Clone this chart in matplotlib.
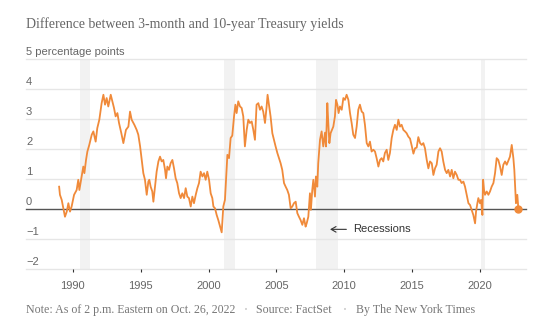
import matplotlib
matplotlib.use("Agg")
import matplotlib.pyplot as plt

# 3-month vs 10-year Treasury spread, percentage points (decimal years)
years = [
    1989.00, 1989.06, 1989.19, 1989.31, 1989.43, 1989.56, 1989.68, 1989.80, 1989.92,
    1990.10, 1990.29, 1990.41, 1990.49, 1990.66, 1990.78, 1990.86, 1990.98,
    1991.08, 1991.22, 1991.40, 1991.52, 1991.69, 1991.81, 1991.96,
    1992.06, 1992.13, 1992.26, 1992.38, 1992.50, 1992.62, 1992.80, 1992.92,
    1993.04, 1993.16, 1993.29, 1993.41, 1993.58, 1993.73, 1993.92,
    1994.10, 1994.22, 1994.34, 1994.54, 1994.71, 1994.83, 1994.96,
    1995.08, 1995.20, 1995.32, 1995.45, 1995.57, 1995.64, 1995.74, 1995.86, 1995.94,
    1996.06, 1996.18, 1996.31, 1996.43, 1996.55, 1996.67, 1996.80, 1996.87, 1996.97,
    1997.09, 1997.21, 1997.34, 1997.46, 1997.58, 1997.70, 1997.83, 1997.95,
    1998.07, 1998.20, 1998.32, 1998.44, 1998.56, 1998.69, 1998.81, 1998.93,
    1999.06, 1999.18, 1999.30, 1999.42, 1999.55, 1999.67, 1999.79, 1999.91,
    2000.04, 2000.16, 2000.28, 2000.36, 2000.48, 2000.60, 2000.72, 2000.85, 2000.97,
    2001.09, 2001.21, 2001.29, 2001.39, 2001.51, 2001.63, 2001.75, 2001.88, 2001.98,
    2002.07, 2002.19, 2002.32, 2002.44, 2002.56, 2002.68, 2002.81, 2002.93,
    2003.05, 2003.18, 2003.30, 2003.42, 2003.54, 2003.67, 2003.79, 2003.91,
    2004.03, 2004.16, 2004.28, 2004.35, 2004.45, 2004.57, 2004.70, 2004.82, 2004.94,
    2005.07, 2005.19, 2005.31, 2005.43, 2005.56, 2005.68, 2005.80, 2005.92,
    2006.05, 2006.17, 2006.29, 2006.42, 2006.54, 2006.66, 2006.78, 2006.91,
    2007.03, 2007.15, 2007.23, 2007.35, 2007.47, 2007.54, 2007.64, 2007.72, 2007.84, 2007.91,
    2008.01, 2008.08, 2008.21, 2008.33, 2008.45, 2008.58, 2008.65, 2008.75, 2008.82, 2008.90, 2008.99,
    2009.09, 2009.19, 2009.31, 2009.39, 2009.49, 2009.58, 2009.68, 2009.81, 2009.93,
    2010.05, 2010.17, 2010.30, 2010.42, 2010.54, 2010.66, 2010.79, 2010.91,
    2011.03, 2011.15, 2011.28, 2011.40, 2011.52, 2011.65, 2011.77, 2011.89,
    2012.01, 2012.14, 2012.26, 2012.38, 2012.51, 2012.63, 2012.75, 2012.87, 2012.99,
    2013.12, 2013.24, 2013.36, 2013.49, 2013.61, 2013.73, 2013.86, 2013.98,
    2014.10, 2014.22, 2014.35, 2014.47, 2014.59, 2014.71, 2014.84, 2014.96,
    2015.09, 2015.21, 2015.33, 2015.45, 2015.58, 2015.70, 2015.82, 2015.94,
    2016.07, 2016.19, 2016.31, 2016.44, 2016.56, 2016.68, 2016.80, 2016.93,
    2017.05, 2017.17, 2017.29, 2017.42, 2017.54, 2017.66, 2017.79, 2017.91,
    2018.03, 2018.15, 2018.28, 2018.40, 2018.52, 2018.64, 2018.77, 2018.89,
    2019.01, 2019.14, 2019.26, 2019.38, 2019.50, 2019.63, 2019.70, 2019.80, 2019.87, 2019.99,
    2020.07, 2020.17, 2020.22, 2020.29, 2020.36, 2020.49, 2020.61, 2020.73, 2020.85, 2020.98,
    2021.10, 2021.22, 2021.34, 2021.47, 2021.59, 2021.71, 2021.84, 2021.96,
    2022.08, 2022.20, 2022.33, 2022.45, 2022.52, 2022.59, 2022.64, 2022.74, 2022.82,
]
spread = [
    0.75, 0.48, 0.31, 0.03, -0.25, -0.08, 0.20, -0.08, 0.09,
    0.48, 0.64, 0.98, 0.64, 1.09, 1.42, 1.20, 1.64,
    1.92, 2.14, 2.48, 2.59, 2.25, 2.70, 2.98,
    3.31, 3.53, 3.81, 3.48, 3.70, 3.42, 3.81, 3.59,
    3.37, 3.09, 3.20, 2.87, 2.53, 2.20, 2.64,
    2.75, 3.25, 2.98, 2.81, 2.64, 2.48, 2.10,
    1.65, 1.20, 0.98, 0.48, 0.92, 0.98, 0.75, 0.59, 0.25,
    0.75, 1.25, 1.59, 1.75, 1.59, 1.64, 1.31, 1.03, 1.42,
    1.31, 1.53, 1.64, 1.36, 1.03, 0.87, 0.53, 0.37,
    0.53, 0.37, 0.70, 0.42, 0.37, 0.09, 0.42, 0.20,
    0.48, 0.70, 0.87, 1.25, 1.09, 1.20, 0.98, 1.25,
    0.98, 0.53, 0.37, 0.09, 0.03, -0.19, -0.36, -0.58, -0.77,
    0.09, 0.31, 0.98, 1.81, 1.70, 2.37, 2.45, 3.09, 3.48,
    3.20, 3.59, 3.42, 3.37, 3.09, 2.09, 2.64, 2.98,
    2.87, 2.92, 2.64, 2.31, 3.48, 3.53, 3.31, 3.42,
    3.25, 2.87, 3.42, 3.81, 3.48, 3.09, 2.53, 2.31, 2.09,
    1.87, 1.70, 1.53, 1.31, 0.87, 0.75, 0.64, 0.48,
    0.03, 0.09, 0.20, 0.25, -0.13, -0.25, -0.36, -0.52,
    -0.30, -0.58, -0.47, -0.25, 0.53, -0.02, 0.64, 0.98, 0.42, 1.09,
    0.75, 1.53, 2.31, 2.59, 2.09, 2.55, 2.09, 3.53, 2.87, 2.20, 2.53,
    2.64, 2.75, 3.09, 3.64, 3.48, 3.20, 3.42, 3.31, 3.70,
    3.64, 3.81, 3.64, 3.20, 2.87, 2.48, 2.37, 2.75,
    3.31, 3.48, 3.25, 3.20, 2.81, 2.20, 2.09, 2.25,
    1.92, 1.98, 1.92, 1.70, 1.42, 1.64, 1.70, 1.59, 1.87,
    1.98, 1.64, 1.87, 2.37, 2.64, 2.81, 2.64, 2.98,
    2.75, 2.81, 2.64, 2.59, 2.53, 2.42, 2.35, 2.12,
    1.85, 2.03, 2.05, 2.40, 2.20, 2.14, 2.20, 2.03,
    1.64, 1.36, 1.59, 1.53, 1.14, 1.36, 1.48, 1.92,
    2.03, 1.92, 1.59, 1.31, 1.20, 1.31, 1.09, 1.31,
    1.03, 1.25, 1.14, 0.98, 0.98, 0.87, 0.92, 0.75,
    0.48, 0.20, 0.14, -0.02, -0.19, -0.47, -0.08, 0.20, 0.37, 0.20,
    0.31, -0.19, 0.98, 0.64, 0.48, 0.59, 0.48, 0.59, 0.75, 0.87,
    1.20, 1.70, 1.64, 1.42, 1.14, 1.48, 1.59, 1.48,
    1.62, 1.75, 2.14, 1.70, 1.31, 0.64, 0.20, 0.48, 0.00,
]

# NBER recessions (start, end)
recession_start = [1990.50, 2001.17, 2007.92, 2020.08]
recession_end = [1991.25, 2001.92, 2009.50, 2020.33]

x_ticks = [1990, 1995, 2000, 2005, 2010, 2015, 2020]
y_grid = [-2, -1, 0, 1, 2, 3, 4, 5]

ORANGE = "#f08a3a"
SANS = "Liberation Sans"
SERIF = "Liberation Serif"

W, H = 551, 330
fig = plt.figure(figsize=(W / 100, H / 100), dpi=100)
ax = fig.add_axes([26 / W, 1 - 269.3 / H, 500 / W, 210.3 / H])
ax.set_xlim(1986.56, 2023.38)
ax.set_ylim(-2, 5)
for s in ax.spines.values():
    s.set_visible(False)

for a, b in zip(recession_start, recession_end):
    ax.axvspan(a, b, color="#f2f2f2", lw=0, zorder=0)

for v in y_grid:
    if v == 0:
        ax.axhline(v, color="#555555", lw=1.0, zorder=2, clip_on=False)
    else:
        ax.axhline(v, color="#e6e6e6", lw=1.0, zorder=1, clip_on=False)
    label = "5 percentage points" if v == 5 else str(v).replace("-", "\u2212")
    ax.annotate(label, xy=(0, v), xycoords=("axes fraction", "data"),
                xytext=(0, 3), textcoords="offset points",
                ha="left", va="baseline", fontsize=8, color="#666666",
                family=SANS)

ax.plot(years, spread, color=ORANGE, lw=1.3, zorder=3, solid_joinstyle="round")
ax.plot(years[-1], spread[-1], "o", color=ORANGE, ms=5, zorder=4)

ax.set_xticks(x_ticks)
ax.set_xticklabels([str(y) for y in x_ticks], family=SANS)
ax.tick_params(axis="x", length=2.5, width=0.8, color="#333333",
               labelcolor="#666666", labelsize=8, pad=6)
ax.set_yticks([])

# arrow pointing back at the 2008-09 recession band
ax.annotate("", xy=(2008.95, -0.67), xytext=(2010.15, -0.67),
            arrowprops=dict(arrowstyle="->,head_length=0.35,head_width=0.2",
                            color="#333333", lw=0.8, shrinkA=0, shrinkB=0))
ax.text(2010.64, -0.67, "Recessions", fontsize=8, color="#333333",
        ha="left", va="center", family=SANS)

fig.text(26 / W, 1 - 24 / H, "Difference between 3-month and 10-year Treasury yields",
         fontsize=10, color="#666666", family=SERIF, ha="left", va="center")

foot_y = 1 - 310 / H
fig.text(26 / W, foot_y, "Note: As of 2 p.m. Eastern on Oct. 26, 2022",
         fontsize=8.6, color="#777777", family=SERIF, ha="left", va="center")
fig.text(246 / W, foot_y, "\u2022", fontsize=5, color="#cccccc", ha="center", va="center")
fig.text(256 / W, foot_y, "Source: FactSet",
         fontsize=8.6, color="#777777", family=SERIF, ha="left", va="center")
fig.text(345 / W, foot_y, "\u2022", fontsize=5, color="#cccccc", ha="center", va="center")
fig.text(356 / W, foot_y, "By The New York Times",
         fontsize=8.6, color="#777777", family=SERIF, ha="left", va="center")

fig.savefig("out.png", dpi=100, facecolor="white")
